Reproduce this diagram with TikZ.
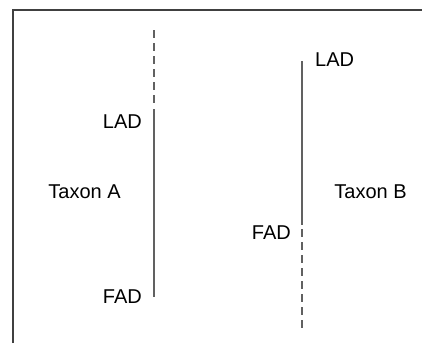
\documentclass[tikz,border=0pt]{standalone}
\usepackage{fontspec}
\setmainfont{Liberation Sans}
\begin{document}
\begin{tikzpicture}[x=1pt,y=-1pt,
  lbl/.style={inner sep=0pt,font=\fontsize{20pt}{24pt}\selectfont,text=black},
  rangeline/.style={draw=black!62,line width=1.2pt},
  ghostline/.style={draw=black!62,line width=1.2pt,dash pattern=on 8pt off 5pt},
  frameline/.style={draw=black!75,line width=1.6pt}]
\useasboundingbox (0,0) rectangle (422,343);
% frame
\coordinate (fb) at (13,343);
\coordinate (fc) at (13,10);
\coordinate (fr) at (422,10);
\draw[frameline] (fb) -- (fc) -- (fr);
% Taxon A
\coordinate (aTop) at (154,30);
\coordinate (aLad) at (154,109);
\coordinate (aDashEnd) at (154,104);
\coordinate (aFad) at (154,297);
\draw[ghostline] (aTop) -- (aDashEnd);
\draw[rangeline] (aLad) -- (aFad);
\node[lbl,anchor=base east] (ladA) at (142,128) {LAD};
\node[lbl,anchor=base east] (fadA) at (142,303) {FAD};
\node[lbl,anchor=base] (taxA) at (84.5,198) {Taxon A};
% Taxon B
\coordinate (bLad) at (302,61);
\coordinate (bFad) at (302,225);
\coordinate (bDashStart) at (302,229);
\coordinate (bBot) at (302,328);
\draw[rangeline] (bLad) -- (bFad);
\draw[ghostline] (bDashStart) -- (bBot);
\node[lbl,anchor=base west] (ladB) at (315,66) {LAD};
\node[lbl,anchor=base east] (fadB) at (291,239) {FAD};
\node[lbl,anchor=base] (taxB) at (370.5,198) {Taxon B};
\end{tikzpicture}
\end{document}
